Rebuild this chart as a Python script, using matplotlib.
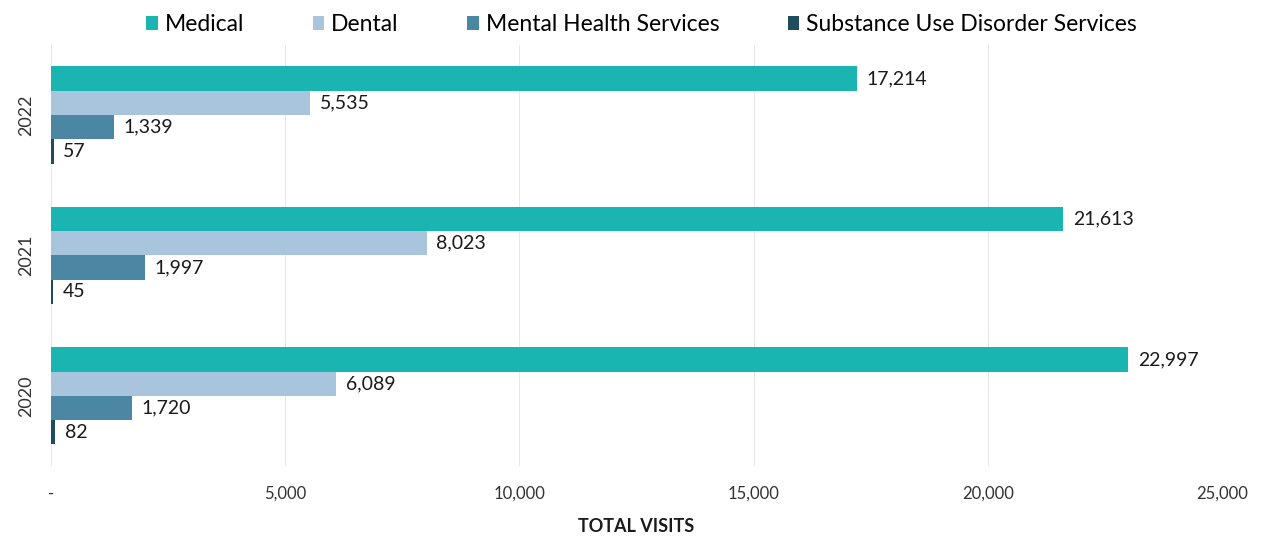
import matplotlib
matplotlib.use("Agg")
import matplotlib.pyplot as plt
import numpy as np

years = ["2020", "2021", "2022"]
series = ["Medical", "Dental", "Mental Health Services", "Substance Use Disorder Services"]
medical = [22997, 21613, 17214]
dental = [6089, 8023, 5535]
mental_health = [1720, 1997, 1339]
substance_use = [82, 45, 57]
colors = ["#1BB5B1", "#A9C5DD", "#4B87A3", "#1E4D5E"]
xticks = [0, 5000, 10000, 15000, 20000, 25000]
xtick_labels = ["-", "5,000", "10,000", "15,000", "20,000", "25,000"]

plt.rcParams["font.family"] = ["Lato", "DejaVu Sans"]

fig = plt.figure(figsize=(12.63, 5.4), dpi=100)
ax = fig.add_axes([0.0404, 0.137, 0.927, 0.780])

y = np.arange(len(years))
h = 0.173
offsets = [1.5 * h, 0.5 * h, -0.5 * h, -1.5 * h]
handles = []
for vals, name, col, off in zip([medical, dental, mental_health, substance_use], series, colors, offsets):
    bars = ax.barh(y + off, vals, height=h, color=col, label=name)
    handles.append(bars)
    for b, v in zip(bars, vals):
        ax.annotate(f"{v:,}", (v, b.get_y() + b.get_height() / 2), xytext=(7, 0),
                    textcoords="offset points", va="center", ha="left",
                    fontsize=14, color="#1a1a1a")

ax.set_xlim(0, 25000)
ax.set_ylim(-0.5, 2.5)
ax.set_xticks(xticks)
ax.set_xticklabels(xtick_labels, fontsize=12, color="#333333")
ax.set_yticks(y)
ax.set_yticklabels(years, rotation=90, va="center", fontsize=13, color="#333333")
ax.tick_params(axis="both", length=0)
ax.tick_params(axis="x", pad=14)
ax.tick_params(axis="y", pad=12)
ax.xaxis.grid(True, color="#e3e3e3", linewidth=0.6)
ax.set_axisbelow(True)
for s in ax.spines.values():
    s.set_visible(False)

ax.set_xlabel("TOTAL VISITS", fontsize=13, fontweight="bold", color="#1a1a1a", labelpad=12)

fig.legend(handles=handles, labels=series, loc="upper center", bbox_to_anchor=(0.508, 1.012),
           ncol=4, frameon=False, fontsize=16.5, handlelength=0.5, handleheight=0.5,
           handletextpad=0.3, columnspacing=3.0)

fig.savefig("out.png", dpi=100, facecolor="white")
